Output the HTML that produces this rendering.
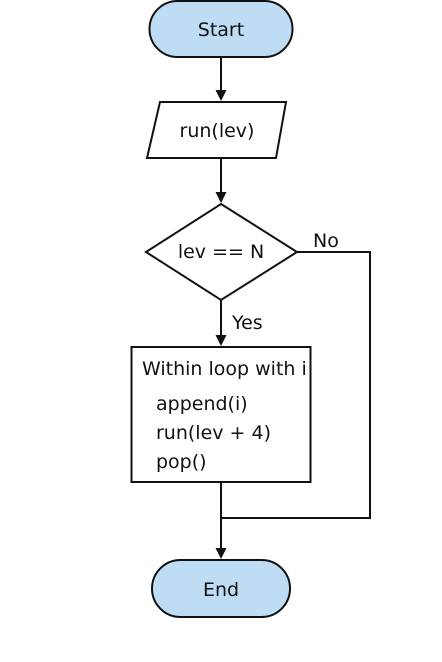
<!DOCTYPE html>
<html><head><style>body{margin:0;background:#fff}svg{display:block}text{font-family:"DejaVu Sans","Liberation Sans",sans-serif;font-size:19px;fill:#111}</style></head>
<body>
<svg width="442" height="662" viewBox="0 0 442 662">
<g stroke="#111" stroke-width="2" fill="none">
<rect x="149.5" y="1" width="143" height="56" rx="28" fill="#bedcf3"/>
<line x1="221" y1="57" x2="221" y2="92"/>
<polygon points="160,102 286,102 276,158 147,158" fill="#fff"/>
<line x1="221" y1="158" x2="221" y2="194"/>
<polygon points="221,204 297,252 221,300 146,252" fill="#fff"/>
<polyline points="297,252 370,252 370,518 221,518"/>
<line x1="221" y1="300" x2="221" y2="337"/>
<rect x="131.5" y="347" width="179" height="135" fill="#fff"/>
<line x1="221" y1="482" x2="221" y2="550"/>
<rect x="152" y="560" width="138" height="57" rx="28.5" fill="#bedcf3"/>
</g>
<g fill="#111">
<path d="M215.5,90 L226.5,90 L221,101 Z"/>
<path d="M215.5,192 L226.5,192 L221,203 Z"/>
<path d="M215.5,335 L226.5,335 L221,346 Z"/>
<path d="M215.5,548 L226.5,548 L221,559 Z"/>
</g>
<text x="221" y="36" text-anchor="middle">Start</text>
<text x="217" y="137" text-anchor="middle">run(lev)</text>
<text x="221" y="258" text-anchor="middle">lev == N</text>
<text x="313" y="247">No</text>
<text x="232" y="329">Yes</text>
<text x="142" y="375">Within loop with i</text>
<text x="156" y="410">append(i)</text>
<text x="156" y="439">run(lev + 4)</text>
<text x="156" y="468">pop()</text>
<text x="221" y="596" text-anchor="middle">End</text>
</svg>
</body></html>
